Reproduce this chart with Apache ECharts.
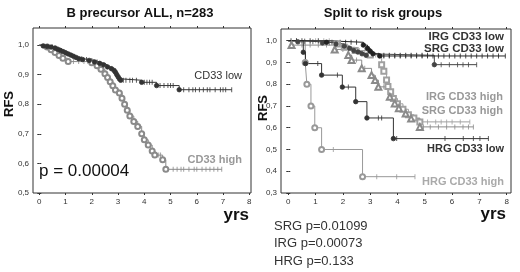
<!DOCTYPE html>
<html>
<head>
<meta charset="utf-8">
<script src="https://cdn.jsdelivr.net/npm/echarts@6/dist/echarts.min.js"></script>
<style>
html, body { margin: 0; padding: 0; background: #fff; }
#main { width: 520px; height: 272px; }
</style>
</head>
<body>
<div id="main"></div>
<script>
// ---- data: [years, RFS] after each event, end of follow-up, censored times ----
var yearTicks = [0, 1, 2, 3, 4, 5, 6, 7, 8];
var rfsTicksLeft = [0.5, 0.6, 0.7, 0.8, 0.9, 1.0];
var rfsTicksRight = [0.3, 0.4, 0.5, 0.6, 0.7, 0.8, 0.9, 1.0];

// left panel: B precursor ALL
var lowEvents = [[0.15,0.997],[0.3,0.995],[0.45,0.993],[0.6,0.99],[0.7,0.986],[0.8,0.982],[0.9,0.978],
  [1.0,0.974],[1.1,0.97],[1.2,0.966],[1.3,0.962],[1.4,0.958],[1.5,0.954],[1.65,0.951],[1.9,0.948],
  [2.1,0.943],[2.3,0.938],[2.45,0.933],[2.6,0.926],[2.75,0.92],[2.85,0.914],[2.9,0.908],[2.95,0.9],
  [3.0,0.893],[3.05,0.886],[3.1,0.881],[3.9,0.874],[4.47,0.863],[5.33,0.849]];
var lowEnd = 7.33;
var lowCensor = [0.5,1.0,1.6,1.8,2.0,2.2,3.2,3.3,3.45,3.55,3.7,4.0,4.1,4.2,4.3,4.6,4.75,4.9,5.0,5.1,
  5.5,5.7,5.85,5.95,6.1,6.25,6.4,6.5,6.7,6.9,7.0,7.1,7.33];

var highEvents = [[0.3,0.993],[0.45,0.984],[0.6,0.975],[0.75,0.965],[0.9,0.955],[1.1,0.944],
  [2.0,0.94],[2.2,0.93],[2.35,0.918],[2.5,0.903],[2.6,0.89],[2.7,0.876],[2.8,0.862],[2.9,0.848],
  [3.05,0.838],[3.15,0.82],[3.25,0.8],[3.35,0.78],[3.45,0.76],[3.6,0.742],[3.75,0.725],[3.9,0.7],
  [4.0,0.68],[4.15,0.662],[4.3,0.642],[4.4,0.628],[4.7,0.612],[4.82,0.58]];
var highEnd = 6.95;
var highCensor = [1.3,1.5,1.7,1.85,3.48,4.55,4.62,5.1,5.25,5.4,5.5,5.7,5.9,6.0,6.2,6.35,6.5,6.65,6.8,6.95];

// right panel: risk groups
var irgLowEvents = [[1.4,0.993],[2.75,0.98],[2.9,0.965],[3.0,0.952],[3.1,0.94],[3.35,0.93]];
var irgLowEnd = 7.95;
var irgLowCensor = [0.1,0.3,0.5,0.8,1.1,1.6,1.9,2.1,2.3,2.5,3.5,3.7,3.9,4.1,4.3,4.5,4.7,4.9,5.1,5.3,
  5.5,5.7,5.9,6.1,6.3,6.5,6.7,6.9,7.1,7.3,7.5,7.7,7.95];

var srgLowEvents = [[0.35,0.995],[1.25,0.99],[1.75,0.985],[2.05,0.975],[2.25,0.965],[2.4,0.955],
  [2.55,0.948],[2.7,0.94],[2.85,0.933],[5.35,0.89]];
var srgLowEnd = 6.9;
var srgLowCensor = [0.6,0.9,1.5,2.95,3.1,3.3,3.5,3.7,3.9,4.1,4.3,4.5,4.7,4.9,5.1,5.6,5.9,6.2,6.4,6.6,6.9];

var hrgLowEvents = [[0.55,0.947],[0.63,0.895],[1.22,0.842],[1.98,0.787],[2.47,0.72],[2.88,0.645],[3.85,0.55]];
var hrgLowEnd = 7.33;
var hrgLowCensor = [1.08,1.8,2.2,3.3,3.42,3.97,5.74,6.41,6.78,7.02,7.33];

var irgHighEvents = [[1.8,0.985],[2.05,0.97],[2.45,0.955],[3.0,0.935],[3.42,0.89],[3.5,0.86],[3.6,0.82],
  [3.65,0.79],[3.75,0.765],[3.85,0.735],[4.0,0.71],[4.2,0.685],[4.4,0.66],[4.6,0.645],[4.82,0.627]];
var irgHighEnd = 6.65;
var irgHighCensor = [0.3,0.6,1.0,1.3,1.5,2.2,2.6,2.8,3.2,5.1,5.4,5.6,5.8,6.0,6.3,6.65];

var srgHighEvents = [[0.12,0.98],[1.7,0.96],[2.2,0.934],[2.32,0.911],[2.69,0.873],[3.05,0.842],[3.18,0.819],
  [3.3,0.788],[3.72,0.742],[3.9,0.712],[4.05,0.69],[4.3,0.665],[4.5,0.642],[4.82,0.604]];
var srgHighEnd = 6.78;
var srgHighCensor = [0.5,0.8,1.1,1.4,2.0,2.5,2.8,3.5,4.2,4.95,5.2,5.5,5.8,6.1,6.4,6.6,6.78];

var hrgHighEvents = [[0.62,0.9],[0.68,0.8],[0.83,0.7],[0.97,0.6],[1.22,0.5],[2.72,0.375]];
var hrgHighEnd = 4.64;
var hrgHighCensor = [1.65,3.24,3.97,4.64];

var FONT = '"Liberation Sans", Arial, sans-serif';

function survAt(events, t) {
  var s = 1;
  for (var i = 0; i < events.length; i++) {
    if (events[i][0] <= t) s = events[i][1];
  }
  return s;
}

function km(idx, events, end, censor, color, symbol, size) {
  var pts = [[0, 1]].concat(events).concat([[end, events[events.length - 1][1]]]);
  var data = pts.map(function (p, i) {
    return {
      value: p,
      symbol: (i === 0 || i === pts.length - 1) ? 'none' : symbol
    };
  });
  return [{
    type: 'line',
    step: 'end',
    xAxisIndex: idx,
    yAxisIndex: idx,
    symbolSize: size,
    showAllSymbol: true,
    lineStyle: { color: color, width: 1 },
    itemStyle: { color: color, borderColor: color, borderWidth: 0.8 },
    data: data
  }, {
    type: 'scatter',
    xAxisIndex: idx,
    yAxisIndex: idx,
    symbol: 'rect',
    symbolSize: [1, 5],
    itemStyle: { color: color },
    data: censor.map(function (t) { return [t, survAt(events, t)]; })
  }];
}

function xAx(grid, min, max, pos) {
  var main = pos === 'bottom';
  return {
    type: 'value', gridIndex: grid, position: pos, min: min, max: max,
    axisLine: { show: false },
    splitLine: { show: false },
    axisTick: { show: true, length: 2, lineStyle: { color: '#333' }, customValues: yearTicks },
    axisLabel: { show: main, customValues: yearTicks, color: '#333', fontSize: 8, fontFamily: FONT, margin: 5 }
  };
}

function yAx(grid, min, max, ticks, pos) {
  var main = pos === 'left';
  return {
    type: 'value', gridIndex: grid, position: pos, min: min, max: max,
    axisLine: { show: false },
    splitLine: { show: false },
    axisTick: { show: true, length: 2, lineStyle: { color: '#333' }, customValues: ticks },
    axisLabel: {
      show: main, customValues: ticks, color: '#333', fontSize: 8, fontFamily: FONT, margin: 4,
      formatter: function (v) { return v.toFixed(1).replace('.', ','); }
    }
  };
}

var chart = echarts.init(document.getElementById('main'));

var series = [].concat(
  km(0, highEvents, highEnd, highCensor, '#8a8a8a', 'emptyCircle', 5),
  km(0, lowEvents, lowEnd, lowCensor, '#333333', 'circle', 4.5),
  km(1, hrgHighEvents, hrgHighEnd, hrgHighCensor, '#999999', 'emptyCircle', 5),
  km(1, irgHighEvents, irgHighEnd, irgHighCensor, '#a0a0a0', 'emptyRect', 5),
  km(1, srgHighEvents, srgHighEnd, srgHighCensor, '#8a8a8a', 'emptyTriangle', 6),
  km(1, hrgLowEvents, hrgLowEnd, hrgLowCensor, '#333333', 'circle', 4.5),
  km(1, srgLowEvents, srgLowEnd, srgLowCensor, '#444444', 'circle', 4.5),
  km(1, irgLowEvents, irgLowEnd, irgLowCensor, '#222222', 'circle', 4.5)
);

function txt(x, y, s, size, color, weight, align, rot) {
  return {
    type: 'text', x: x, y: y, rotation: rot || 0,
    style: {
      text: s, fill: color, font: (weight || 'normal') + ' ' + size + 'px ' + FONT,
      textAlign: align || 'left', textVerticalAlign: 'middle'
    }
  };
}

chart.setOption({
  animation: false,
  grid: [
    { left: 33, top: 28, width: 218, height: 165, show: true, borderColor: '#333', borderWidth: 1, backgroundColor: 'transparent' },
    { left: 281, top: 29, width: 230, height: 164, show: true, borderColor: '#333', borderWidth: 1, backgroundColor: 'transparent' }
  ],
  xAxis: [
    xAx(0, -0.24, 8.065, 'bottom'),
    xAx(1, -0.267, 8.158, 'bottom'),
    xAx(0, -0.24, 8.065, 'top'),
    xAx(1, -0.267, 8.158, 'top')
  ],
  yAxis: [
    yAx(0, 0.5, 1.0575, rfsTicksLeft, 'left'),
    yAx(1, 0.3, 1.054, rfsTicksRight, 'left'),
    yAx(0, 0.5, 1.0575, rfsTicksLeft, 'right'),
    yAx(1, 0.3, 1.054, rfsTicksRight, 'right')
  ],
  series: series,
  graphic: [
    txt(140, 13, 'B precursor ALL, n=283', 13, '#111', 'bold', 'center'),
    txt(383, 13, 'Split to risk groups', 13, '#111', 'bold', 'center'),
    txt(9, 104, 'RFS', 13, '#111', 'bold', 'center', Math.PI / 2),
    txt(263, 108, 'RFS', 13, '#111', 'bold', 'center', Math.PI / 2),
    txt(249, 215, 'yrs', 17, '#111', 'bold', 'right'),
    txt(506, 214, 'yrs', 17, '#111', 'bold', 'right'),
    txt(39, 171, 'p = 0.00004', 17, '#111', 'normal', 'left'),
    txt(242, 76, 'CD33 low', 11, '#333', 'normal', 'right'),
    txt(242, 160, 'CD33 high', 11, '#999', 'bold', 'right'),
    txt(504, 37, 'IRG CD33 low', 11.5, '#333', 'bold', 'right'),
    txt(504, 48.5, 'SRG CD33 low', 11.5, '#333', 'bold', 'right'),
    txt(503, 96.5, 'IRG CD33 high', 11, '#999', 'bold', 'right'),
    txt(503, 111, 'SRG CD33 high', 11, '#999', 'bold', 'right'),
    txt(504, 149, 'HRG CD33 low', 11, '#333', 'bold', 'right'),
    txt(504, 182, 'HRG CD33 high', 11, '#aaa', 'bold', 'right'),
    txt(274, 226, 'SRG p=0.01099', 13, '#333', 'normal', 'left'),
    txt(274, 243.5, 'IRG p=0.00073', 13, '#333', 'normal', 'left'),
    txt(274, 261.5, 'HRG p=0.133', 13, '#333', 'normal', 'left')
  ]
});
</script>
</body>
</html>
